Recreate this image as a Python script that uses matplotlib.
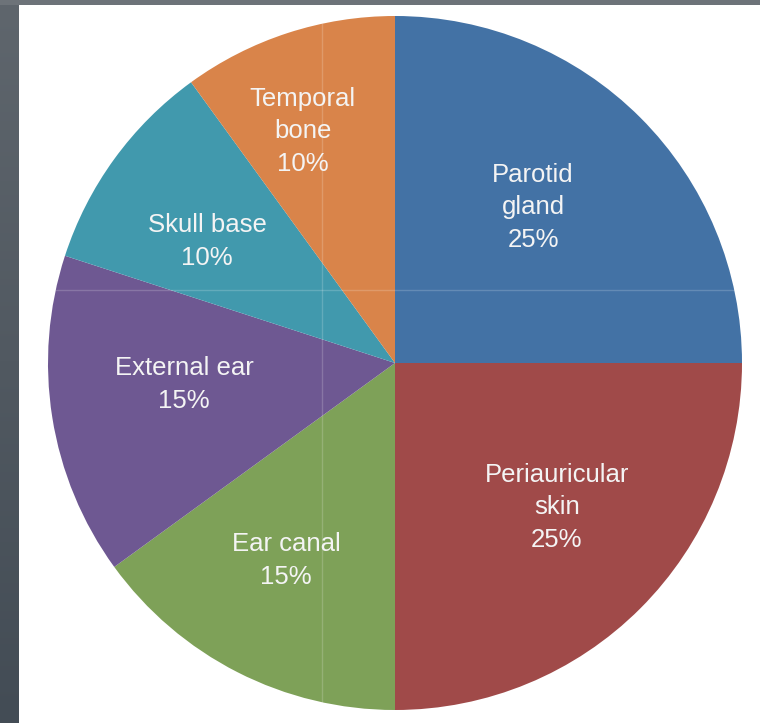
import numpy as np
import matplotlib
matplotlib.use("Agg")
import matplotlib.pyplot as plt

# data
labels = ["Parotid\ngland", "Periauricular\nskin", "Ear canal", "External ear",
          "Skull base", "Temporal\nbone"]
shares = [25, 25, 15, 15, 10, 10]
colors = ["#4372a5", "#a04a49", "#7ea158", "#6e5892", "#4199ad", "#d9844a"]
# label placement: radial fraction and angular nudge (deg) from wedge middle
label_r = [0.605, 0.62, 0.644, 0.61, 0.649, 0.725]
label_dang = [3.9, 3.8, -2.2, -3.9, 2.6, 3.5]

W, H = 760, 723
fig = plt.figure(figsize=(W / 100, H / 100), dpi=100)
fig.patch.set_facecolor("white")

# dark frame strips (left gradient, top bar)
ax_left = fig.add_axes([0, 0, 19 / W, 1])
grad = np.linspace(0, 1, 256).reshape(-1, 1)
cmap = matplotlib.colors.LinearSegmentedColormap.from_list("strip", ["#5f666d", "#434c55"])
ax_left.imshow(grad, aspect="auto", cmap=cmap, extent=[0, 1, 0, 1], origin="upper")
ax_left.axis("off")
ax_top = fig.add_axes([0, 1 - 5 / H, 1, 5 / H])
ax_top.set_facecolor("#6d7379")
ax_top.set_xticks([])
ax_top.set_yticks([])
for s in ax_top.spines.values():
    s.set_visible(False)

# pie axes: centre (395, 363) px from top-left, radius 347 px
R = 347
cx, cy = 395, 363
ax = fig.add_axes([(cx - R) / W, (H - cy - R) / H, 2 * R / W, 2 * R / H])
wedges, _ = ax.pie(shares, colors=colors, startangle=90, counterclock=False,
                   radius=1.0, wedgeprops=dict(linewidth=0, antialiased=True))
ax.set_xlim(-1, 1)
ax.set_ylim(-1, 1)
ax.set_aspect("equal")
ax.axis("off")

for w, lab, val, r, da in zip(wedges, labels, shares, label_r, label_dang):
    mid = np.deg2rad((w.theta1 + w.theta2) / 2 + da)
    ax.text(r * np.cos(mid), r * np.sin(mid) - 2.5 / R, f"{lab}\n{val}%",
            ha="center", va="center", color="#f4f4f4", fontsize=18.5,
            family="Liberation Sans", linespacing=1.45)

# faint seams visible in the source image
gx = (322 - cx) / R
gy = (cy - 290) / R
ax.plot([gx, gx], [-np.sqrt(1 - gx ** 2), np.sqrt(1 - gx ** 2)], color="white", alpha=0.18, lw=1)
ax.plot([-np.sqrt(1 - gy ** 2), np.sqrt(1 - gy ** 2)], [gy, gy], color="white", alpha=0.18, lw=1)

fig.savefig("out.png", dpi=100)
